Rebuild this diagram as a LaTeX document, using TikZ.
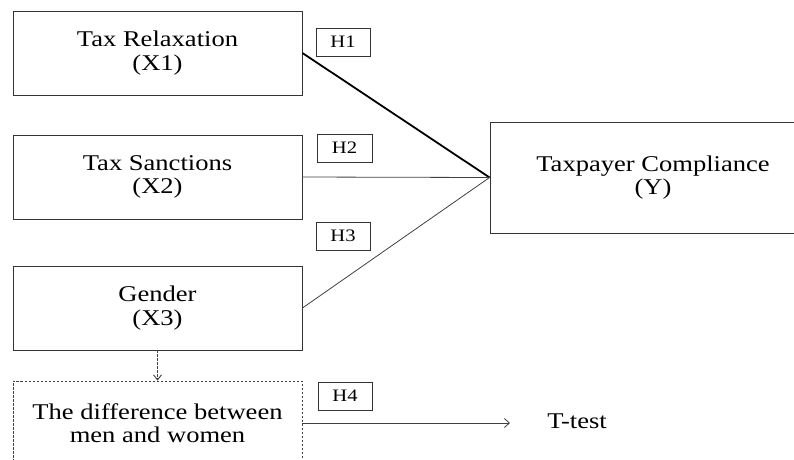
\documentclass[tikz,border=0pt]{standalone}
\usepackage{fontspec}
\setmainfont{Liberation Serif}[FakeStretch=1.18]
\usetikzlibrary{arrows.meta}
\begin{document}
\begin{tikzpicture}[x=1pt,y=-1pt,
  varbox/.style={draw=black!80, line width=0.9pt, rectangle, minimum width=289pt, minimum height=84pt, align=center, inner sep=0pt, font=\fontsize{22.5}{23.5}\selectfont},
  hbox/.style={draw=black!80, line width=0.8pt, rectangle, minimum width=54pt, minimum height=28pt, inner sep=0pt, font=\fontsize{17.5}{19}\selectfont},
  thinline/.style={draw=black!75, line width=0.8pt},
  thickline/.style={draw=black, line width=1.8pt},
  dotbox/.style={draw=black!75, line width=0.9pt, dash pattern=on 2.5pt off 1.5pt}
]
\useasboundingbox (0,0) rectangle (794,459);
\node[varbox] (x1) at (157.5,53) {Tax Relaxation\\(X1)};
\node[varbox] (x2) at (157.5,177) {Tax Sanctions\\(X2)};
\node[varbox] (x3) at (157.5,308) {Gender\\(X3)};
\node[varbox, dotbox] (d) at (157.5,423) {The difference between\\men and women};
\node[varbox, minimum width=326pt, minimum height=111pt] (y) at (653,177.5) {Taxpayer Compliance\\(Y)};
\node[hbox] (h1) at (343,42) {H1};
\node[hbox, minimum width=55pt] (h2) at (344.5,148) {H2};
\node[hbox] (h3) at (343,236) {H3};
\node[hbox] (h4) at (345,396) {H4};
\node[anchor=base, inner sep=0pt, font=\fontsize{22.5}{23.5}\selectfont] (t) at (577,428) {T-test};
\coordinate (tend) at (510,423);
\draw[thickline] (x1.east) -- (y.west);
\draw[thinline] (x2.east) -- (y.west);
\draw[thinline] (x3.east) -- (y.west);
\draw[dotbox, -{Straight Barb[length=5pt,width=8pt]}] (x3.south) -- (d.north);
\draw[thinline, -{Straight Barb[length=5pt,width=9pt]}] (d.east |- tend) -- (tend);
\end{tikzpicture}
\end{document}
